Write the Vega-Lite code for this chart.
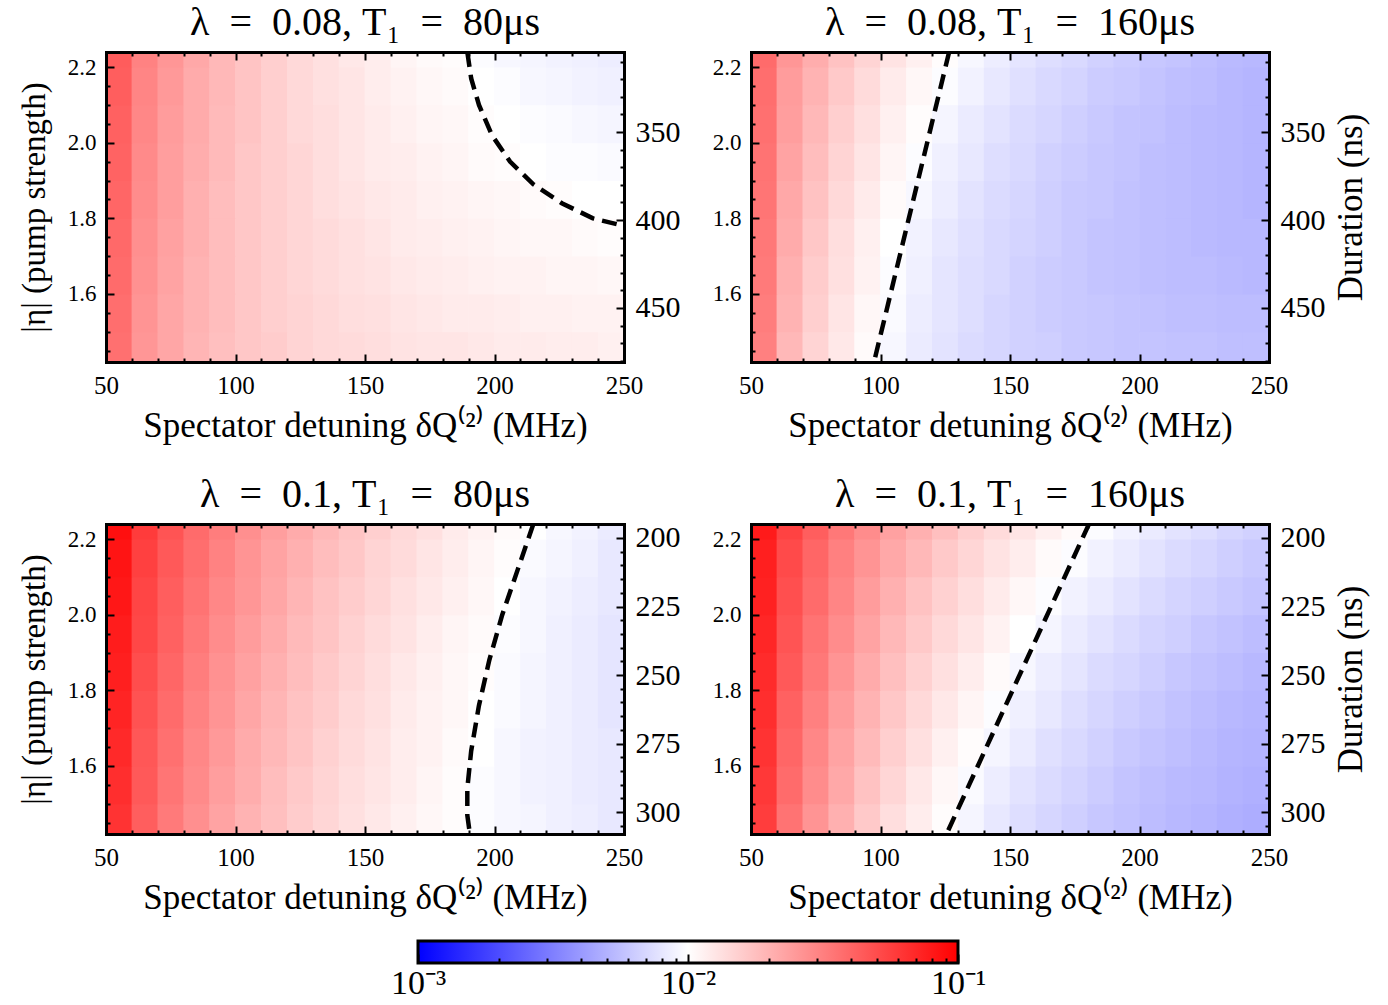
{
  "$schema": "https://vega.github.io/schema/vega-lite/v6.json",
  "padding": {"left": 18, "top": 3, "right": 5, "bottom": 0},
  "datasets": {
    "heat": [
      {"panel":"TL","det":55,"eta":1.45,"lg":-1.44},{"panel":"TL","det":65,"eta":1.45,"lg":-1.59},{"panel":"TL","det":75,"eta":1.45,"lg":-1.65},{"panel":"TL","det":85,"eta":1.45,"lg":-1.71},{"panel":"TL","det":95,"eta":1.45,"lg":-1.75},{"panel":"TL","det":105,"eta":1.45,"lg":-1.78},{"panel":"TL","det":115,"eta":1.45,"lg":-1.80},{"panel":"TL","det":125,"eta":1.45,"lg":-1.83},{"panel":"TL","det":135,"eta":1.45,"lg":-1.85},{"panel":"TL","det":145,"eta":1.45,"lg":-1.86},{"panel":"TL","det":155,"eta":1.45,"lg":-1.87},{"panel":"TL","det":165,"eta":1.45,"lg":-1.89},{"panel":"TL","det":175,"eta":1.45,"lg":-1.90},{"panel":"TL","det":185,"eta":1.45,"lg":-1.90},{"panel":"TL","det":195,"eta":1.45,"lg":-1.91},{"panel":"TL","det":205,"eta":1.45,"lg":-1.92},{"panel":"TL","det":215,"eta":1.45,"lg":-1.92},{"panel":"TL","det":225,"eta":1.45,"lg":-1.93},{"panel":"TL","det":235,"eta":1.45,"lg":-1.93},{"panel":"TL","det":245,"eta":1.45,"lg":-1.94},
      {"panel":"TL","det":55,"eta":1.55,"lg":-1.43},{"panel":"TL","det":65,"eta":1.55,"lg":-1.58},{"panel":"TL","det":75,"eta":1.55,"lg":-1.65},{"panel":"TL","det":85,"eta":1.55,"lg":-1.70},{"panel":"TL","det":95,"eta":1.55,"lg":-1.74},{"panel":"TL","det":105,"eta":1.55,"lg":-1.78},{"panel":"TL","det":115,"eta":1.55,"lg":-1.81},{"panel":"TL","det":125,"eta":1.55,"lg":-1.83},{"panel":"TL","det":135,"eta":1.55,"lg":-1.85},{"panel":"TL","det":145,"eta":1.55,"lg":-1.87},{"panel":"TL","det":155,"eta":1.55,"lg":-1.88},{"panel":"TL","det":165,"eta":1.55,"lg":-1.90},{"panel":"TL","det":175,"eta":1.55,"lg":-1.91},{"panel":"TL","det":185,"eta":1.55,"lg":-1.92},{"panel":"TL","det":195,"eta":1.55,"lg":-1.92},{"panel":"TL","det":205,"eta":1.55,"lg":-1.93},{"panel":"TL","det":215,"eta":1.55,"lg":-1.94},{"panel":"TL","det":225,"eta":1.55,"lg":-1.94},{"panel":"TL","det":235,"eta":1.55,"lg":-1.95},{"panel":"TL","det":245,"eta":1.55,"lg":-1.95},
      {"panel":"TL","det":55,"eta":1.65,"lg":-1.42},{"panel":"TL","det":65,"eta":1.65,"lg":-1.57},{"panel":"TL","det":75,"eta":1.65,"lg":-1.64},{"panel":"TL","det":85,"eta":1.65,"lg":-1.70},{"panel":"TL","det":95,"eta":1.65,"lg":-1.74},{"panel":"TL","det":105,"eta":1.65,"lg":-1.78},{"panel":"TL","det":115,"eta":1.65,"lg":-1.81},{"panel":"TL","det":125,"eta":1.65,"lg":-1.84},{"panel":"TL","det":135,"eta":1.65,"lg":-1.86},{"panel":"TL","det":145,"eta":1.65,"lg":-1.88},{"panel":"TL","det":155,"eta":1.65,"lg":-1.89},{"panel":"TL","det":165,"eta":1.65,"lg":-1.91},{"panel":"TL","det":175,"eta":1.65,"lg":-1.92},{"panel":"TL","det":185,"eta":1.65,"lg":-1.93},{"panel":"TL","det":195,"eta":1.65,"lg":-1.94},{"panel":"TL","det":205,"eta":1.65,"lg":-1.95},{"panel":"TL","det":215,"eta":1.65,"lg":-1.95},{"panel":"TL","det":225,"eta":1.65,"lg":-1.96},{"panel":"TL","det":235,"eta":1.65,"lg":-1.96},{"panel":"TL","det":245,"eta":1.65,"lg":-1.97},
      {"panel":"TL","det":55,"eta":1.75,"lg":-1.41},{"panel":"TL","det":65,"eta":1.75,"lg":-1.56},{"panel":"TL","det":75,"eta":1.75,"lg":-1.63},{"panel":"TL","det":85,"eta":1.75,"lg":-1.69},{"panel":"TL","det":95,"eta":1.75,"lg":-1.74},{"panel":"TL","det":105,"eta":1.75,"lg":-1.78},{"panel":"TL","det":115,"eta":1.75,"lg":-1.81},{"panel":"TL","det":125,"eta":1.75,"lg":-1.84},{"panel":"TL","det":135,"eta":1.75,"lg":-1.86},{"panel":"TL","det":145,"eta":1.75,"lg":-1.88},{"panel":"TL","det":155,"eta":1.75,"lg":-1.90},{"panel":"TL","det":165,"eta":1.75,"lg":-1.92},{"panel":"TL","det":175,"eta":1.75,"lg":-1.93},{"panel":"TL","det":185,"eta":1.75,"lg":-1.94},{"panel":"TL","det":195,"eta":1.75,"lg":-1.95},{"panel":"TL","det":205,"eta":1.75,"lg":-1.96},{"panel":"TL","det":215,"eta":1.75,"lg":-1.97},{"panel":"TL","det":225,"eta":1.75,"lg":-1.97},{"panel":"TL","det":235,"eta":1.75,"lg":-1.98},{"panel":"TL","det":245,"eta":1.75,"lg":-1.99},
      {"panel":"TL","det":55,"eta":1.85,"lg":-1.40},{"panel":"TL","det":65,"eta":1.85,"lg":-1.55},{"panel":"TL","det":75,"eta":1.85,"lg":-1.62},{"panel":"TL","det":85,"eta":1.85,"lg":-1.69},{"panel":"TL","det":95,"eta":1.85,"lg":-1.74},{"panel":"TL","det":105,"eta":1.85,"lg":-1.78},{"panel":"TL","det":115,"eta":1.85,"lg":-1.81},{"panel":"TL","det":125,"eta":1.85,"lg":-1.84},{"panel":"TL","det":135,"eta":1.85,"lg":-1.87},{"panel":"TL","det":145,"eta":1.85,"lg":-1.89},{"panel":"TL","det":155,"eta":1.85,"lg":-1.91},{"panel":"TL","det":165,"eta":1.85,"lg":-1.92},{"panel":"TL","det":175,"eta":1.85,"lg":-1.94},{"panel":"TL","det":185,"eta":1.85,"lg":-1.95},{"panel":"TL","det":195,"eta":1.85,"lg":-1.96},{"panel":"TL","det":205,"eta":1.85,"lg":-1.97},{"panel":"TL","det":215,"eta":1.85,"lg":-1.98},{"panel":"TL","det":225,"eta":1.85,"lg":-1.99},{"panel":"TL","det":235,"eta":1.85,"lg":-2.00},{"panel":"TL","det":245,"eta":1.85,"lg":-2.00},
      {"panel":"TL","det":55,"eta":1.95,"lg":-1.39},{"panel":"TL","det":65,"eta":1.95,"lg":-1.54},{"panel":"TL","det":75,"eta":1.95,"lg":-1.62},{"panel":"TL","det":85,"eta":1.95,"lg":-1.68},{"panel":"TL","det":95,"eta":1.95,"lg":-1.73},{"panel":"TL","det":105,"eta":1.95,"lg":-1.78},{"panel":"TL","det":115,"eta":1.95,"lg":-1.81},{"panel":"TL","det":125,"eta":1.95,"lg":-1.84},{"panel":"TL","det":135,"eta":1.95,"lg":-1.87},{"panel":"TL","det":145,"eta":1.95,"lg":-1.90},{"panel":"TL","det":155,"eta":1.95,"lg":-1.92},{"panel":"TL","det":165,"eta":1.95,"lg":-1.93},{"panel":"TL","det":175,"eta":1.95,"lg":-1.95},{"panel":"TL","det":185,"eta":1.95,"lg":-1.96},{"panel":"TL","det":195,"eta":1.95,"lg":-1.98},{"panel":"TL","det":205,"eta":1.95,"lg":-1.99},{"panel":"TL","det":215,"eta":1.95,"lg":-2.00},{"panel":"TL","det":225,"eta":1.95,"lg":-2.01},{"panel":"TL","det":235,"eta":1.95,"lg":-2.01},{"panel":"TL","det":245,"eta":1.95,"lg":-2.02},
      {"panel":"TL","det":55,"eta":2.05,"lg":-1.38},{"panel":"TL","det":65,"eta":2.05,"lg":-1.53},{"panel":"TL","det":75,"eta":2.05,"lg":-1.61},{"panel":"TL","det":85,"eta":2.05,"lg":-1.67},{"panel":"TL","det":95,"eta":2.05,"lg":-1.73},{"panel":"TL","det":105,"eta":2.05,"lg":-1.77},{"panel":"TL","det":115,"eta":2.05,"lg":-1.81},{"panel":"TL","det":125,"eta":2.05,"lg":-1.85},{"panel":"TL","det":135,"eta":2.05,"lg":-1.87},{"panel":"TL","det":145,"eta":2.05,"lg":-1.90},{"panel":"TL","det":155,"eta":2.05,"lg":-1.92},{"panel":"TL","det":165,"eta":2.05,"lg":-1.94},{"panel":"TL","det":175,"eta":2.05,"lg":-1.96},{"panel":"TL","det":185,"eta":2.05,"lg":-1.97},{"panel":"TL","det":195,"eta":2.05,"lg":-1.99},{"panel":"TL","det":205,"eta":2.05,"lg":-2.00},{"panel":"TL","det":215,"eta":2.05,"lg":-2.01},{"panel":"TL","det":225,"eta":2.05,"lg":-2.02},{"panel":"TL","det":235,"eta":2.05,"lg":-2.03},{"panel":"TL","det":245,"eta":2.05,"lg":-2.04},
      {"panel":"TL","det":55,"eta":2.15,"lg":-1.37},{"panel":"TL","det":65,"eta":2.15,"lg":-1.52},{"panel":"TL","det":75,"eta":2.15,"lg":-1.60},{"panel":"TL","det":85,"eta":2.15,"lg":-1.67},{"panel":"TL","det":95,"eta":2.15,"lg":-1.72},{"panel":"TL","det":105,"eta":2.15,"lg":-1.77},{"panel":"TL","det":115,"eta":2.15,"lg":-1.81},{"panel":"TL","det":125,"eta":2.15,"lg":-1.85},{"panel":"TL","det":135,"eta":2.15,"lg":-1.88},{"panel":"TL","det":145,"eta":2.15,"lg":-1.90},{"panel":"TL","det":155,"eta":2.15,"lg":-1.93},{"panel":"TL","det":165,"eta":2.15,"lg":-1.95},{"panel":"TL","det":175,"eta":2.15,"lg":-1.97},{"panel":"TL","det":185,"eta":2.15,"lg":-1.98},{"panel":"TL","det":195,"eta":2.15,"lg":-2.00},{"panel":"TL","det":205,"eta":2.15,"lg":-2.01},{"panel":"TL","det":215,"eta":2.15,"lg":-2.03},{"panel":"TL","det":225,"eta":2.15,"lg":-2.04},{"panel":"TL","det":235,"eta":2.15,"lg":-2.05},{"panel":"TL","det":245,"eta":2.15,"lg":-2.06},
      {"panel":"TL","det":55,"eta":2.25,"lg":-1.36},{"panel":"TL","det":65,"eta":2.25,"lg":-1.51},{"panel":"TL","det":75,"eta":2.25,"lg":-1.59},{"panel":"TL","det":85,"eta":2.25,"lg":-1.66},{"panel":"TL","det":95,"eta":2.25,"lg":-1.72},{"panel":"TL","det":105,"eta":2.25,"lg":-1.77},{"panel":"TL","det":115,"eta":2.25,"lg":-1.81},{"panel":"TL","det":125,"eta":2.25,"lg":-1.85},{"panel":"TL","det":135,"eta":2.25,"lg":-1.88},{"panel":"TL","det":145,"eta":2.25,"lg":-1.91},{"panel":"TL","det":155,"eta":2.25,"lg":-1.93},{"panel":"TL","det":165,"eta":2.25,"lg":-1.96},{"panel":"TL","det":175,"eta":2.25,"lg":-1.98},{"panel":"TL","det":185,"eta":2.25,"lg":-1.99},{"panel":"TL","det":195,"eta":2.25,"lg":-2.01},{"panel":"TL","det":205,"eta":2.25,"lg":-2.03},{"panel":"TL","det":215,"eta":2.25,"lg":-2.04},{"panel":"TL","det":225,"eta":2.25,"lg":-2.05},{"panel":"TL","det":235,"eta":2.25,"lg":-2.06},{"panel":"TL","det":245,"eta":2.25,"lg":-2.07},

      {"panel":"TR","det":55,"eta":1.45,"lg":-1.50},{"panel":"TR","det":65,"eta":1.45,"lg":-1.72},{"panel":"TR","det":75,"eta":1.45,"lg":-1.83},{"panel":"TR","det":85,"eta":1.45,"lg":-1.91},{"panel":"TR","det":95,"eta":1.45,"lg":-1.98},{"panel":"TR","det":105,"eta":1.45,"lg":-2.03},{"panel":"TR","det":115,"eta":1.45,"lg":-2.08},{"panel":"TR","det":125,"eta":1.45,"lg":-2.11},{"panel":"TR","det":135,"eta":1.45,"lg":-2.14},{"panel":"TR","det":145,"eta":1.45,"lg":-2.16},{"panel":"TR","det":155,"eta":1.45,"lg":-2.18},{"panel":"TR","det":165,"eta":1.45,"lg":-2.19},{"panel":"TR","det":175,"eta":1.45,"lg":-2.21},{"panel":"TR","det":185,"eta":1.45,"lg":-2.22},{"panel":"TR","det":195,"eta":1.45,"lg":-2.23},{"panel":"TR","det":205,"eta":1.45,"lg":-2.23},{"panel":"TR","det":215,"eta":1.45,"lg":-2.24},{"panel":"TR","det":225,"eta":1.45,"lg":-2.24},{"panel":"TR","det":235,"eta":1.45,"lg":-2.25},{"panel":"TR","det":245,"eta":1.45,"lg":-2.25},
      {"panel":"TR","det":55,"eta":1.55,"lg":-1.49},{"panel":"TR","det":65,"eta":1.55,"lg":-1.70},{"panel":"TR","det":75,"eta":1.55,"lg":-1.81},{"panel":"TR","det":85,"eta":1.55,"lg":-1.90},{"panel":"TR","det":95,"eta":1.55,"lg":-1.97},{"panel":"TR","det":105,"eta":1.55,"lg":-2.02},{"panel":"TR","det":115,"eta":1.55,"lg":-2.07},{"panel":"TR","det":125,"eta":1.55,"lg":-2.10},{"panel":"TR","det":135,"eta":1.55,"lg":-2.13},{"panel":"TR","det":145,"eta":1.55,"lg":-2.16},{"panel":"TR","det":155,"eta":1.55,"lg":-2.18},{"panel":"TR","det":165,"eta":1.55,"lg":-2.20},{"panel":"TR","det":175,"eta":1.55,"lg":-2.21},{"panel":"TR","det":185,"eta":1.55,"lg":-2.22},{"panel":"TR","det":195,"eta":1.55,"lg":-2.23},{"panel":"TR","det":205,"eta":1.55,"lg":-2.24},{"panel":"TR","det":215,"eta":1.55,"lg":-2.25},{"panel":"TR","det":225,"eta":1.55,"lg":-2.25},{"panel":"TR","det":235,"eta":1.55,"lg":-2.26},{"panel":"TR","det":245,"eta":1.55,"lg":-2.26},
      {"panel":"TR","det":55,"eta":1.65,"lg":-1.48},{"panel":"TR","det":65,"eta":1.65,"lg":-1.69},{"panel":"TR","det":75,"eta":1.65,"lg":-1.80},{"panel":"TR","det":85,"eta":1.65,"lg":-1.88},{"panel":"TR","det":95,"eta":1.65,"lg":-1.95},{"panel":"TR","det":105,"eta":1.65,"lg":-2.01},{"panel":"TR","det":115,"eta":1.65,"lg":-2.06},{"panel":"TR","det":125,"eta":1.65,"lg":-2.10},{"panel":"TR","det":135,"eta":1.65,"lg":-2.13},{"panel":"TR","det":145,"eta":1.65,"lg":-2.15},{"panel":"TR","det":155,"eta":1.65,"lg":-2.18},{"panel":"TR","det":165,"eta":1.65,"lg":-2.20},{"panel":"TR","det":175,"eta":1.65,"lg":-2.21},{"panel":"TR","det":185,"eta":1.65,"lg":-2.23},{"panel":"TR","det":195,"eta":1.65,"lg":-2.24},{"panel":"TR","det":205,"eta":1.65,"lg":-2.25},{"panel":"TR","det":215,"eta":1.65,"lg":-2.26},{"panel":"TR","det":225,"eta":1.65,"lg":-2.26},{"panel":"TR","det":235,"eta":1.65,"lg":-2.27},{"panel":"TR","det":245,"eta":1.65,"lg":-2.28},
      {"panel":"TR","det":55,"eta":1.75,"lg":-1.47},{"panel":"TR","det":65,"eta":1.75,"lg":-1.67},{"panel":"TR","det":75,"eta":1.75,"lg":-1.78},{"panel":"TR","det":85,"eta":1.75,"lg":-1.87},{"panel":"TR","det":95,"eta":1.75,"lg":-1.94},{"panel":"TR","det":105,"eta":1.75,"lg":-2.00},{"panel":"TR","det":115,"eta":1.75,"lg":-2.05},{"panel":"TR","det":125,"eta":1.75,"lg":-2.09},{"panel":"TR","det":135,"eta":1.75,"lg":-2.12},{"panel":"TR","det":145,"eta":1.75,"lg":-2.15},{"panel":"TR","det":155,"eta":1.75,"lg":-2.17},{"panel":"TR","det":165,"eta":1.75,"lg":-2.19},{"panel":"TR","det":175,"eta":1.75,"lg":-2.21},{"panel":"TR","det":185,"eta":1.75,"lg":-2.23},{"panel":"TR","det":195,"eta":1.75,"lg":-2.24},{"panel":"TR","det":205,"eta":1.75,"lg":-2.25},{"panel":"TR","det":215,"eta":1.75,"lg":-2.26},{"panel":"TR","det":225,"eta":1.75,"lg":-2.27},{"panel":"TR","det":235,"eta":1.75,"lg":-2.28},{"panel":"TR","det":245,"eta":1.75,"lg":-2.28},
      {"panel":"TR","det":55,"eta":1.85,"lg":-1.46},{"panel":"TR","det":65,"eta":1.85,"lg":-1.66},{"panel":"TR","det":75,"eta":1.85,"lg":-1.76},{"panel":"TR","det":85,"eta":1.85,"lg":-1.85},{"panel":"TR","det":95,"eta":1.85,"lg":-1.92},{"panel":"TR","det":105,"eta":1.85,"lg":-1.98},{"panel":"TR","det":115,"eta":1.85,"lg":-2.03},{"panel":"TR","det":125,"eta":1.85,"lg":-2.07},{"panel":"TR","det":135,"eta":1.85,"lg":-2.11},{"panel":"TR","det":145,"eta":1.85,"lg":-2.14},{"panel":"TR","det":155,"eta":1.85,"lg":-2.16},{"panel":"TR","det":165,"eta":1.85,"lg":-2.19},{"panel":"TR","det":175,"eta":1.85,"lg":-2.21},{"panel":"TR","det":185,"eta":1.85,"lg":-2.22},{"panel":"TR","det":195,"eta":1.85,"lg":-2.24},{"panel":"TR","det":205,"eta":1.85,"lg":-2.25},{"panel":"TR","det":215,"eta":1.85,"lg":-2.26},{"panel":"TR","det":225,"eta":1.85,"lg":-2.27},{"panel":"TR","det":235,"eta":1.85,"lg":-2.28},{"panel":"TR","det":245,"eta":1.85,"lg":-2.29},
      {"panel":"TR","det":55,"eta":1.95,"lg":-1.45},{"panel":"TR","det":65,"eta":1.95,"lg":-1.64},{"panel":"TR","det":75,"eta":1.95,"lg":-1.74},{"panel":"TR","det":85,"eta":1.95,"lg":-1.83},{"panel":"TR","det":95,"eta":1.95,"lg":-1.90},{"panel":"TR","det":105,"eta":1.95,"lg":-1.96},{"panel":"TR","det":115,"eta":1.95,"lg":-2.01},{"panel":"TR","det":125,"eta":1.95,"lg":-2.06},{"panel":"TR","det":135,"eta":1.95,"lg":-2.09},{"panel":"TR","det":145,"eta":1.95,"lg":-2.13},{"panel":"TR","det":155,"eta":1.95,"lg":-2.15},{"panel":"TR","det":165,"eta":1.95,"lg":-2.18},{"panel":"TR","det":175,"eta":1.95,"lg":-2.20},{"panel":"TR","det":185,"eta":1.95,"lg":-2.22},{"panel":"TR","det":195,"eta":1.95,"lg":-2.23},{"panel":"TR","det":205,"eta":1.95,"lg":-2.25},{"panel":"TR","det":215,"eta":1.95,"lg":-2.26},{"panel":"TR","det":225,"eta":1.95,"lg":-2.27},{"panel":"TR","det":235,"eta":1.95,"lg":-2.28},{"panel":"TR","det":245,"eta":1.95,"lg":-2.29},
      {"panel":"TR","det":55,"eta":2.05,"lg":-1.44},{"panel":"TR","det":65,"eta":2.05,"lg":-1.62},{"panel":"TR","det":75,"eta":2.05,"lg":-1.72},{"panel":"TR","det":85,"eta":2.05,"lg":-1.81},{"panel":"TR","det":95,"eta":2.05,"lg":-1.88},{"panel":"TR","det":105,"eta":2.05,"lg":-1.94},{"panel":"TR","det":115,"eta":2.05,"lg":-1.99},{"panel":"TR","det":125,"eta":2.05,"lg":-2.04},{"panel":"TR","det":135,"eta":2.05,"lg":-2.08},{"panel":"TR","det":145,"eta":2.05,"lg":-2.11},{"panel":"TR","det":155,"eta":2.05,"lg":-2.14},{"panel":"TR","det":165,"eta":2.05,"lg":-2.16},{"panel":"TR","det":175,"eta":2.05,"lg":-2.19},{"panel":"TR","det":185,"eta":2.05,"lg":-2.21},{"panel":"TR","det":195,"eta":2.05,"lg":-2.23},{"panel":"TR","det":205,"eta":2.05,"lg":-2.24},{"panel":"TR","det":215,"eta":2.05,"lg":-2.26},{"panel":"TR","det":225,"eta":2.05,"lg":-2.27},{"panel":"TR","det":235,"eta":2.05,"lg":-2.28},{"panel":"TR","det":245,"eta":2.05,"lg":-2.29},
      {"panel":"TR","det":55,"eta":2.15,"lg":-1.43},{"panel":"TR","det":65,"eta":2.15,"lg":-1.61},{"panel":"TR","det":75,"eta":2.15,"lg":-1.70},{"panel":"TR","det":85,"eta":2.15,"lg":-1.79},{"panel":"TR","det":95,"eta":2.15,"lg":-1.86},{"panel":"TR","det":105,"eta":2.15,"lg":-1.92},{"panel":"TR","det":115,"eta":2.15,"lg":-1.97},{"panel":"TR","det":125,"eta":2.15,"lg":-2.01},{"panel":"TR","det":135,"eta":2.15,"lg":-2.05},{"panel":"TR","det":145,"eta":2.15,"lg":-2.09},{"panel":"TR","det":155,"eta":2.15,"lg":-2.12},{"panel":"TR","det":165,"eta":2.15,"lg":-2.15},{"panel":"TR","det":175,"eta":2.15,"lg":-2.17},{"panel":"TR","det":185,"eta":2.15,"lg":-2.20},{"panel":"TR","det":195,"eta":2.15,"lg":-2.21},{"panel":"TR","det":205,"eta":2.15,"lg":-2.23},{"panel":"TR","det":215,"eta":2.15,"lg":-2.25},{"panel":"TR","det":225,"eta":2.15,"lg":-2.26},{"panel":"TR","det":235,"eta":2.15,"lg":-2.28},{"panel":"TR","det":245,"eta":2.15,"lg":-2.29},
      {"panel":"TR","det":55,"eta":2.25,"lg":-1.42},{"panel":"TR","det":65,"eta":2.25,"lg":-1.59},{"panel":"TR","det":75,"eta":2.25,"lg":-1.68},{"panel":"TR","det":85,"eta":2.25,"lg":-1.76},{"panel":"TR","det":95,"eta":2.25,"lg":-1.83},{"panel":"TR","det":105,"eta":2.25,"lg":-1.89},{"panel":"TR","det":115,"eta":2.25,"lg":-1.94},{"panel":"TR","det":125,"eta":2.25,"lg":-1.99},{"panel":"TR","det":135,"eta":2.25,"lg":-2.03},{"panel":"TR","det":145,"eta":2.25,"lg":-2.07},{"panel":"TR","det":155,"eta":2.25,"lg":-2.10},{"panel":"TR","det":165,"eta":2.25,"lg":-2.13},{"panel":"TR","det":175,"eta":2.25,"lg":-2.15},{"panel":"TR","det":185,"eta":2.25,"lg":-2.18},{"panel":"TR","det":195,"eta":2.25,"lg":-2.20},{"panel":"TR","det":205,"eta":2.25,"lg":-2.22},{"panel":"TR","det":215,"eta":2.25,"lg":-2.23},{"panel":"TR","det":225,"eta":2.25,"lg":-2.25},{"panel":"TR","det":235,"eta":2.25,"lg":-2.27},{"panel":"TR","det":245,"eta":2.25,"lg":-2.28},

      {"panel":"BL","det":55,"eta":1.45,"lg":-1.20},{"panel":"BL","det":65,"eta":1.45,"lg":-1.37},{"panel":"BL","det":75,"eta":1.45,"lg":-1.48},{"panel":"BL","det":85,"eta":1.45,"lg":-1.56},{"panel":"BL","det":95,"eta":1.45,"lg":-1.64},{"panel":"BL","det":105,"eta":1.45,"lg":-1.70},{"panel":"BL","det":115,"eta":1.45,"lg":-1.75},{"panel":"BL","det":125,"eta":1.45,"lg":-1.80},{"panel":"BL","det":135,"eta":1.45,"lg":-1.84},{"panel":"BL","det":145,"eta":1.45,"lg":-1.88},{"panel":"BL","det":155,"eta":1.45,"lg":-1.91},{"panel":"BL","det":165,"eta":1.45,"lg":-1.94},{"panel":"BL","det":175,"eta":1.45,"lg":-1.97},{"panel":"BL","det":185,"eta":1.45,"lg":-1.99},{"panel":"BL","det":195,"eta":1.45,"lg":-2.01},{"panel":"BL","det":205,"eta":1.45,"lg":-2.03},{"panel":"BL","det":215,"eta":1.45,"lg":-2.04},{"panel":"BL","det":225,"eta":1.45,"lg":-2.06},{"panel":"BL","det":235,"eta":1.45,"lg":-2.07},{"panel":"BL","det":245,"eta":1.45,"lg":-2.09},
      {"panel":"BL","det":55,"eta":1.55,"lg":-1.18},{"panel":"BL","det":65,"eta":1.55,"lg":-1.35},{"panel":"BL","det":75,"eta":1.55,"lg":-1.46},{"panel":"BL","det":85,"eta":1.55,"lg":-1.54},{"panel":"BL","det":95,"eta":1.55,"lg":-1.62},{"panel":"BL","det":105,"eta":1.55,"lg":-1.68},{"panel":"BL","det":115,"eta":1.55,"lg":-1.74},{"panel":"BL","det":125,"eta":1.55,"lg":-1.79},{"panel":"BL","det":135,"eta":1.55,"lg":-1.83},{"panel":"BL","det":145,"eta":1.55,"lg":-1.87},{"panel":"BL","det":155,"eta":1.55,"lg":-1.90},{"panel":"BL","det":165,"eta":1.55,"lg":-1.93},{"panel":"BL","det":175,"eta":1.55,"lg":-1.96},{"panel":"BL","det":185,"eta":1.55,"lg":-1.99},{"panel":"BL","det":195,"eta":1.55,"lg":-2.01},{"panel":"BL","det":205,"eta":1.55,"lg":-2.03},{"panel":"BL","det":215,"eta":1.55,"lg":-2.05},{"panel":"BL","det":225,"eta":1.55,"lg":-2.06},{"panel":"BL","det":235,"eta":1.55,"lg":-2.08},{"panel":"BL","det":245,"eta":1.55,"lg":-2.09},
      {"panel":"BL","det":55,"eta":1.65,"lg":-1.16},{"panel":"BL","det":65,"eta":1.65,"lg":-1.34},{"panel":"BL","det":75,"eta":1.65,"lg":-1.44},{"panel":"BL","det":85,"eta":1.65,"lg":-1.53},{"panel":"BL","det":95,"eta":1.65,"lg":-1.60},{"panel":"BL","det":105,"eta":1.65,"lg":-1.67},{"panel":"BL","det":115,"eta":1.65,"lg":-1.72},{"panel":"BL","det":125,"eta":1.65,"lg":-1.77},{"panel":"BL","det":135,"eta":1.65,"lg":-1.82},{"panel":"BL","det":145,"eta":1.65,"lg":-1.86},{"panel":"BL","det":155,"eta":1.65,"lg":-1.89},{"panel":"BL","det":165,"eta":1.65,"lg":-1.93},{"panel":"BL","det":175,"eta":1.65,"lg":-1.95},{"panel":"BL","det":185,"eta":1.65,"lg":-1.98},{"panel":"BL","det":195,"eta":1.65,"lg":-2.00},{"panel":"BL","det":205,"eta":1.65,"lg":-2.03},{"panel":"BL","det":215,"eta":1.65,"lg":-2.05},{"panel":"BL","det":225,"eta":1.65,"lg":-2.06},{"panel":"BL","det":235,"eta":1.65,"lg":-2.08},{"panel":"BL","det":245,"eta":1.65,"lg":-2.09},
      {"panel":"BL","det":55,"eta":1.75,"lg":-1.14},{"panel":"BL","det":65,"eta":1.75,"lg":-1.32},{"panel":"BL","det":75,"eta":1.75,"lg":-1.42},{"panel":"BL","det":85,"eta":1.75,"lg":-1.51},{"panel":"BL","det":95,"eta":1.75,"lg":-1.58},{"panel":"BL","det":105,"eta":1.75,"lg":-1.65},{"panel":"BL","det":115,"eta":1.75,"lg":-1.71},{"panel":"BL","det":125,"eta":1.75,"lg":-1.76},{"panel":"BL","det":135,"eta":1.75,"lg":-1.80},{"panel":"BL","det":145,"eta":1.75,"lg":-1.85},{"panel":"BL","det":155,"eta":1.75,"lg":-1.88},{"panel":"BL","det":165,"eta":1.75,"lg":-1.92},{"panel":"BL","det":175,"eta":1.75,"lg":-1.95},{"panel":"BL","det":185,"eta":1.75,"lg":-1.97},{"panel":"BL","det":195,"eta":1.75,"lg":-2.00},{"panel":"BL","det":205,"eta":1.75,"lg":-2.02},{"panel":"BL","det":215,"eta":1.75,"lg":-2.04},{"panel":"BL","det":225,"eta":1.75,"lg":-2.06},{"panel":"BL","det":235,"eta":1.75,"lg":-2.08},{"panel":"BL","det":245,"eta":1.75,"lg":-2.10},
      {"panel":"BL","det":55,"eta":1.85,"lg":-1.12},{"panel":"BL","det":65,"eta":1.85,"lg":-1.30},{"panel":"BL","det":75,"eta":1.85,"lg":-1.40},{"panel":"BL","det":85,"eta":1.85,"lg":-1.49},{"panel":"BL","det":95,"eta":1.85,"lg":-1.57},{"panel":"BL","det":105,"eta":1.85,"lg":-1.63},{"panel":"BL","det":115,"eta":1.85,"lg":-1.69},{"panel":"BL","det":125,"eta":1.85,"lg":-1.74},{"panel":"BL","det":135,"eta":1.85,"lg":-1.79},{"panel":"BL","det":145,"eta":1.85,"lg":-1.83},{"panel":"BL","det":155,"eta":1.85,"lg":-1.87},{"panel":"BL","det":165,"eta":1.85,"lg":-1.91},{"panel":"BL","det":175,"eta":1.85,"lg":-1.94},{"panel":"BL","det":185,"eta":1.85,"lg":-1.97},{"panel":"BL","det":195,"eta":1.85,"lg":-1.99},{"panel":"BL","det":205,"eta":1.85,"lg":-2.02},{"panel":"BL","det":215,"eta":1.85,"lg":-2.04},{"panel":"BL","det":225,"eta":1.85,"lg":-2.06},{"panel":"BL","det":235,"eta":1.85,"lg":-2.08},{"panel":"BL","det":245,"eta":1.85,"lg":-2.10},
      {"panel":"BL","det":55,"eta":1.95,"lg":-1.11},{"panel":"BL","det":65,"eta":1.95,"lg":-1.28},{"panel":"BL","det":75,"eta":1.95,"lg":-1.38},{"panel":"BL","det":85,"eta":1.95,"lg":-1.47},{"panel":"BL","det":95,"eta":1.95,"lg":-1.55},{"panel":"BL","det":105,"eta":1.95,"lg":-1.61},{"panel":"BL","det":115,"eta":1.95,"lg":-1.67},{"panel":"BL","det":125,"eta":1.95,"lg":-1.73},{"panel":"BL","det":135,"eta":1.95,"lg":-1.77},{"panel":"BL","det":145,"eta":1.95,"lg":-1.82},{"panel":"BL","det":155,"eta":1.95,"lg":-1.86},{"panel":"BL","det":165,"eta":1.95,"lg":-1.89},{"panel":"BL","det":175,"eta":1.95,"lg":-1.93},{"panel":"BL","det":185,"eta":1.95,"lg":-1.96},{"panel":"BL","det":195,"eta":1.95,"lg":-1.98},{"panel":"BL","det":205,"eta":1.95,"lg":-2.01},{"panel":"BL","det":215,"eta":1.95,"lg":-2.03},{"panel":"BL","det":225,"eta":1.95,"lg":-2.06},{"panel":"BL","det":235,"eta":1.95,"lg":-2.08},{"panel":"BL","det":245,"eta":1.95,"lg":-2.10},
      {"panel":"BL","det":55,"eta":2.05,"lg":-1.09},{"panel":"BL","det":65,"eta":2.05,"lg":-1.27},{"panel":"BL","det":75,"eta":2.05,"lg":-1.37},{"panel":"BL","det":85,"eta":2.05,"lg":-1.45},{"panel":"BL","det":95,"eta":2.05,"lg":-1.53},{"panel":"BL","det":105,"eta":2.05,"lg":-1.59},{"panel":"BL","det":115,"eta":2.05,"lg":-1.65},{"panel":"BL","det":125,"eta":2.05,"lg":-1.71},{"panel":"BL","det":135,"eta":2.05,"lg":-1.76},{"panel":"BL","det":145,"eta":2.05,"lg":-1.80},{"panel":"BL","det":155,"eta":2.05,"lg":-1.84},{"panel":"BL","det":165,"eta":2.05,"lg":-1.88},{"panel":"BL","det":175,"eta":2.05,"lg":-1.91},{"panel":"BL","det":185,"eta":2.05,"lg":-1.94},{"panel":"BL","det":195,"eta":2.05,"lg":-1.97},{"panel":"BL","det":205,"eta":2.05,"lg":-2.00},{"panel":"BL","det":215,"eta":2.05,"lg":-2.03},{"panel":"BL","det":225,"eta":2.05,"lg":-2.05},{"panel":"BL","det":235,"eta":2.05,"lg":-2.07},{"panel":"BL","det":245,"eta":2.05,"lg":-2.09},
      {"panel":"BL","det":55,"eta":2.15,"lg":-1.08},{"panel":"BL","det":65,"eta":2.15,"lg":-1.25},{"panel":"BL","det":75,"eta":2.15,"lg":-1.35},{"panel":"BL","det":85,"eta":2.15,"lg":-1.43},{"panel":"BL","det":95,"eta":2.15,"lg":-1.51},{"panel":"BL","det":105,"eta":2.15,"lg":-1.58},{"panel":"BL","det":115,"eta":2.15,"lg":-1.64},{"panel":"BL","det":125,"eta":2.15,"lg":-1.69},{"panel":"BL","det":135,"eta":2.15,"lg":-1.74},{"panel":"BL","det":145,"eta":2.15,"lg":-1.78},{"panel":"BL","det":155,"eta":2.15,"lg":-1.83},{"panel":"BL","det":165,"eta":2.15,"lg":-1.86},{"panel":"BL","det":175,"eta":2.15,"lg":-1.90},{"panel":"BL","det":185,"eta":2.15,"lg":-1.93},{"panel":"BL","det":195,"eta":2.15,"lg":-1.96},{"panel":"BL","det":205,"eta":2.15,"lg":-1.99},{"panel":"BL","det":215,"eta":2.15,"lg":-2.02},{"panel":"BL","det":225,"eta":2.15,"lg":-2.04},{"panel":"BL","det":235,"eta":2.15,"lg":-2.06},{"panel":"BL","det":245,"eta":2.15,"lg":-2.09},
      {"panel":"BL","det":55,"eta":2.25,"lg":-1.06},{"panel":"BL","det":65,"eta":2.25,"lg":-1.23},{"panel":"BL","det":75,"eta":2.25,"lg":-1.33},{"panel":"BL","det":85,"eta":2.25,"lg":-1.42},{"panel":"BL","det":95,"eta":2.25,"lg":-1.49},{"panel":"BL","det":105,"eta":2.25,"lg":-1.56},{"panel":"BL","det":115,"eta":2.25,"lg":-1.62},{"panel":"BL","det":125,"eta":2.25,"lg":-1.67},{"panel":"BL","det":135,"eta":2.25,"lg":-1.72},{"panel":"BL","det":145,"eta":2.25,"lg":-1.77},{"panel":"BL","det":155,"eta":2.25,"lg":-1.81},{"panel":"BL","det":165,"eta":2.25,"lg":-1.85},{"panel":"BL","det":175,"eta":2.25,"lg":-1.88},{"panel":"BL","det":185,"eta":2.25,"lg":-1.92},{"panel":"BL","det":195,"eta":2.25,"lg":-1.95},{"panel":"BL","det":205,"eta":2.25,"lg":-1.98},{"panel":"BL","det":215,"eta":2.25,"lg":-2.00},{"panel":"BL","det":225,"eta":2.25,"lg":-2.03},{"panel":"BL","det":235,"eta":2.25,"lg":-2.05},{"panel":"BL","det":245,"eta":2.25,"lg":-2.08},

      {"panel":"BR","det":55,"eta":1.45,"lg":-1.24},{"panel":"BR","det":65,"eta":1.45,"lg":-1.45},{"panel":"BR","det":75,"eta":1.45,"lg":-1.58},{"panel":"BR","det":85,"eta":1.45,"lg":-1.69},{"panel":"BR","det":95,"eta":1.45,"lg":-1.79},{"panel":"BR","det":105,"eta":1.45,"lg":-1.87},{"panel":"BR","det":115,"eta":1.45,"lg":-1.93},{"panel":"BR","det":125,"eta":1.45,"lg":-1.99},{"panel":"BR","det":135,"eta":1.45,"lg":-2.04},{"panel":"BR","det":145,"eta":1.45,"lg":-2.09},{"panel":"BR","det":155,"eta":1.45,"lg":-2.13},{"panel":"BR","det":165,"eta":1.45,"lg":-2.16},{"panel":"BR","det":175,"eta":1.45,"lg":-2.19},{"panel":"BR","det":185,"eta":1.45,"lg":-2.22},{"panel":"BR","det":195,"eta":1.45,"lg":-2.24},{"panel":"BR","det":205,"eta":1.45,"lg":-2.26},{"panel":"BR","det":215,"eta":1.45,"lg":-2.28},{"panel":"BR","det":225,"eta":1.45,"lg":-2.29},{"panel":"BR","det":235,"eta":1.45,"lg":-2.31},{"panel":"BR","det":245,"eta":1.45,"lg":-2.32},
      {"panel":"BR","det":55,"eta":1.55,"lg":-1.22},{"panel":"BR","det":65,"eta":1.55,"lg":-1.42},{"panel":"BR","det":75,"eta":1.55,"lg":-1.55},{"panel":"BR","det":85,"eta":1.55,"lg":-1.66},{"panel":"BR","det":95,"eta":1.55,"lg":-1.76},{"panel":"BR","det":105,"eta":1.55,"lg":-1.84},{"panel":"BR","det":115,"eta":1.55,"lg":-1.91},{"panel":"BR","det":125,"eta":1.55,"lg":-1.97},{"panel":"BR","det":135,"eta":1.55,"lg":-2.02},{"panel":"BR","det":145,"eta":1.55,"lg":-2.07},{"panel":"BR","det":155,"eta":1.55,"lg":-2.11},{"panel":"BR","det":165,"eta":1.55,"lg":-2.14},{"panel":"BR","det":175,"eta":1.55,"lg":-2.17},{"panel":"BR","det":185,"eta":1.55,"lg":-2.20},{"panel":"BR","det":195,"eta":1.55,"lg":-2.23},{"panel":"BR","det":205,"eta":1.55,"lg":-2.25},{"panel":"BR","det":215,"eta":1.55,"lg":-2.27},{"panel":"BR","det":225,"eta":1.55,"lg":-2.28},{"panel":"BR","det":235,"eta":1.55,"lg":-2.30},{"panel":"BR","det":245,"eta":1.55,"lg":-2.31},
      {"panel":"BR","det":55,"eta":1.65,"lg":-1.20},{"panel":"BR","det":65,"eta":1.65,"lg":-1.40},{"panel":"BR","det":75,"eta":1.65,"lg":-1.53},{"panel":"BR","det":85,"eta":1.65,"lg":-1.64},{"panel":"BR","det":95,"eta":1.65,"lg":-1.73},{"panel":"BR","det":105,"eta":1.65,"lg":-1.81},{"panel":"BR","det":115,"eta":1.65,"lg":-1.88},{"panel":"BR","det":125,"eta":1.65,"lg":-1.94},{"panel":"BR","det":135,"eta":1.65,"lg":-1.99},{"panel":"BR","det":145,"eta":1.65,"lg":-2.04},{"panel":"BR","det":155,"eta":1.65,"lg":-2.08},{"panel":"BR","det":165,"eta":1.65,"lg":-2.12},{"panel":"BR","det":175,"eta":1.65,"lg":-2.15},{"panel":"BR","det":185,"eta":1.65,"lg":-2.18},{"panel":"BR","det":195,"eta":1.65,"lg":-2.21},{"panel":"BR","det":205,"eta":1.65,"lg":-2.23},{"panel":"BR","det":215,"eta":1.65,"lg":-2.25},{"panel":"BR","det":225,"eta":1.65,"lg":-2.27},{"panel":"BR","det":235,"eta":1.65,"lg":-2.29},{"panel":"BR","det":245,"eta":1.65,"lg":-2.30},
      {"panel":"BR","det":55,"eta":1.75,"lg":-1.18},{"panel":"BR","det":65,"eta":1.75,"lg":-1.38},{"panel":"BR","det":75,"eta":1.75,"lg":-1.50},{"panel":"BR","det":85,"eta":1.75,"lg":-1.61},{"panel":"BR","det":95,"eta":1.75,"lg":-1.70},{"panel":"BR","det":105,"eta":1.75,"lg":-1.78},{"panel":"BR","det":115,"eta":1.75,"lg":-1.85},{"panel":"BR","det":125,"eta":1.75,"lg":-1.91},{"panel":"BR","det":135,"eta":1.75,"lg":-1.96},{"panel":"BR","det":145,"eta":1.75,"lg":-2.01},{"panel":"BR","det":155,"eta":1.75,"lg":-2.06},{"panel":"BR","det":165,"eta":1.75,"lg":-2.09},{"panel":"BR","det":175,"eta":1.75,"lg":-2.13},{"panel":"BR","det":185,"eta":1.75,"lg":-2.16},{"panel":"BR","det":195,"eta":1.75,"lg":-2.19},{"panel":"BR","det":205,"eta":1.75,"lg":-2.21},{"panel":"BR","det":215,"eta":1.75,"lg":-2.24},{"panel":"BR","det":225,"eta":1.75,"lg":-2.26},{"panel":"BR","det":235,"eta":1.75,"lg":-2.28},{"panel":"BR","det":245,"eta":1.75,"lg":-2.29},
      {"panel":"BR","det":55,"eta":1.85,"lg":-1.17},{"panel":"BR","det":65,"eta":1.85,"lg":-1.35},{"panel":"BR","det":75,"eta":1.85,"lg":-1.47},{"panel":"BR","det":85,"eta":1.85,"lg":-1.58},{"panel":"BR","det":95,"eta":1.85,"lg":-1.67},{"panel":"BR","det":105,"eta":1.85,"lg":-1.75},{"panel":"BR","det":115,"eta":1.85,"lg":-1.82},{"panel":"BR","det":125,"eta":1.85,"lg":-1.88},{"panel":"BR","det":135,"eta":1.85,"lg":-1.93},{"panel":"BR","det":145,"eta":1.85,"lg":-1.98},{"panel":"BR","det":155,"eta":1.85,"lg":-2.03},{"panel":"BR","det":165,"eta":1.85,"lg":-2.07},{"panel":"BR","det":175,"eta":1.85,"lg":-2.10},{"panel":"BR","det":185,"eta":1.85,"lg":-2.14},{"panel":"BR","det":195,"eta":1.85,"lg":-2.16},{"panel":"BR","det":205,"eta":1.85,"lg":-2.19},{"panel":"BR","det":215,"eta":1.85,"lg":-2.22},{"panel":"BR","det":225,"eta":1.85,"lg":-2.24},{"panel":"BR","det":235,"eta":1.85,"lg":-2.26},{"panel":"BR","det":245,"eta":1.85,"lg":-2.28},
      {"panel":"BR","det":55,"eta":1.95,"lg":-1.15},{"panel":"BR","det":65,"eta":1.95,"lg":-1.33},{"panel":"BR","det":75,"eta":1.95,"lg":-1.45},{"panel":"BR","det":85,"eta":1.95,"lg":-1.55},{"panel":"BR","det":95,"eta":1.95,"lg":-1.64},{"panel":"BR","det":105,"eta":1.95,"lg":-1.72},{"panel":"BR","det":115,"eta":1.95,"lg":-1.79},{"panel":"BR","det":125,"eta":1.95,"lg":-1.85},{"panel":"BR","det":135,"eta":1.95,"lg":-1.90},{"panel":"BR","det":145,"eta":1.95,"lg":-1.95},{"panel":"BR","det":155,"eta":1.95,"lg":-2.00},{"panel":"BR","det":165,"eta":1.95,"lg":-2.04},{"panel":"BR","det":175,"eta":1.95,"lg":-2.08},{"panel":"BR","det":185,"eta":1.95,"lg":-2.11},{"panel":"BR","det":195,"eta":1.95,"lg":-2.14},{"panel":"BR","det":205,"eta":1.95,"lg":-2.17},{"panel":"BR","det":215,"eta":1.95,"lg":-2.19},{"panel":"BR","det":225,"eta":1.95,"lg":-2.22},{"panel":"BR","det":235,"eta":1.95,"lg":-2.24},{"panel":"BR","det":245,"eta":1.95,"lg":-2.26},
      {"panel":"BR","det":55,"eta":2.05,"lg":-1.13},{"panel":"BR","det":65,"eta":2.05,"lg":-1.31},{"panel":"BR","det":75,"eta":2.05,"lg":-1.42},{"panel":"BR","det":85,"eta":2.05,"lg":-1.52},{"panel":"BR","det":95,"eta":2.05,"lg":-1.61},{"panel":"BR","det":105,"eta":2.05,"lg":-1.69},{"panel":"BR","det":115,"eta":2.05,"lg":-1.76},{"panel":"BR","det":125,"eta":2.05,"lg":-1.82},{"panel":"BR","det":135,"eta":2.05,"lg":-1.87},{"panel":"BR","det":145,"eta":2.05,"lg":-1.92},{"panel":"BR","det":155,"eta":2.05,"lg":-1.97},{"panel":"BR","det":165,"eta":2.05,"lg":-2.01},{"panel":"BR","det":175,"eta":2.05,"lg":-2.05},{"panel":"BR","det":185,"eta":2.05,"lg":-2.08},{"panel":"BR","det":195,"eta":2.05,"lg":-2.11},{"panel":"BR","det":205,"eta":2.05,"lg":-2.14},{"panel":"BR","det":215,"eta":2.05,"lg":-2.17},{"panel":"BR","det":225,"eta":2.05,"lg":-2.19},{"panel":"BR","det":235,"eta":2.05,"lg":-2.21},{"panel":"BR","det":245,"eta":2.05,"lg":-2.23},
      {"panel":"BR","det":55,"eta":2.15,"lg":-1.12},{"panel":"BR","det":65,"eta":2.15,"lg":-1.29},{"panel":"BR","det":75,"eta":2.15,"lg":-1.40},{"panel":"BR","det":85,"eta":2.15,"lg":-1.50},{"panel":"BR","det":95,"eta":2.15,"lg":-1.58},{"panel":"BR","det":105,"eta":2.15,"lg":-1.66},{"panel":"BR","det":115,"eta":2.15,"lg":-1.72},{"panel":"BR","det":125,"eta":2.15,"lg":-1.79},{"panel":"BR","det":135,"eta":2.15,"lg":-1.84},{"panel":"BR","det":145,"eta":2.15,"lg":-1.89},{"panel":"BR","det":155,"eta":2.15,"lg":-1.93},{"panel":"BR","det":165,"eta":2.15,"lg":-1.98},{"panel":"BR","det":175,"eta":2.15,"lg":-2.01},{"panel":"BR","det":185,"eta":2.15,"lg":-2.05},{"panel":"BR","det":195,"eta":2.15,"lg":-2.08},{"panel":"BR","det":205,"eta":2.15,"lg":-2.11},{"panel":"BR","det":215,"eta":2.15,"lg":-2.14},{"panel":"BR","det":225,"eta":2.15,"lg":-2.16},{"panel":"BR","det":235,"eta":2.15,"lg":-2.19},{"panel":"BR","det":245,"eta":2.15,"lg":-2.21},
      {"panel":"BR","det":55,"eta":2.25,"lg":-1.10},{"panel":"BR","det":65,"eta":2.25,"lg":-1.26},{"panel":"BR","det":75,"eta":2.25,"lg":-1.37},{"panel":"BR","det":85,"eta":2.25,"lg":-1.47},{"panel":"BR","det":95,"eta":2.25,"lg":-1.55},{"panel":"BR","det":105,"eta":2.25,"lg":-1.63},{"panel":"BR","det":115,"eta":2.25,"lg":-1.69},{"panel":"BR","det":125,"eta":2.25,"lg":-1.75},{"panel":"BR","det":135,"eta":2.25,"lg":-1.81},{"panel":"BR","det":145,"eta":2.25,"lg":-1.86},{"panel":"BR","det":155,"eta":2.25,"lg":-1.90},{"panel":"BR","det":165,"eta":2.25,"lg":-1.94},{"panel":"BR","det":175,"eta":2.25,"lg":-1.98},{"panel":"BR","det":185,"eta":2.25,"lg":-2.01},{"panel":"BR","det":195,"eta":2.25,"lg":-2.05},{"panel":"BR","det":205,"eta":2.25,"lg":-2.08},{"panel":"BR","det":215,"eta":2.25,"lg":-2.11},{"panel":"BR","det":225,"eta":2.25,"lg":-2.13},{"panel":"BR","det":235,"eta":2.25,"lg":-2.16},{"panel":"BR","det":245,"eta":2.25,"lg":-2.18}
    ],
    "contour": [
      {"panel":"TL","i":0,"det":189.5,"eta":2.24},{"panel":"TL","i":1,"det":191,"eta":2.17},{"panel":"TL","i":2,"det":194,"eta":2.10},{"panel":"TL","i":3,"det":199,"eta":2.02},{"panel":"TL","i":4,"det":206,"eta":1.95},{"panel":"TL","i":5,"det":215,"eta":1.89},{"panel":"TL","i":6,"det":226,"eta":1.84},{"panel":"TL","i":7,"det":238,"eta":1.80},{"panel":"TL","i":8,"det":250,"eta":1.78},
      {"panel":"TR","i":0,"det":126.5,"eta":2.24},{"panel":"TR","i":1,"det":112,"eta":1.83},{"panel":"TR","i":2,"det":97.5,"eta":1.42},
      {"panel":"BL","i":0,"det":215,"eta":2.24},{"panel":"BL","i":1,"det":209,"eta":2.12},{"panel":"BL","i":2,"det":203,"eta":2.00},{"panel":"BL","i":3,"det":198,"eta":1.88},{"panel":"BL","i":4,"det":194,"eta":1.76},{"panel":"BL","i":5,"det":191,"eta":1.64},{"panel":"BL","i":6,"det":189.5,"eta":1.54},{"panel":"BL","i":7,"det":189.5,"eta":1.47},{"panel":"BL","i":8,"det":190.5,"eta":1.42},
      {"panel":"BR","i":0,"det":180.5,"eta":2.24},{"panel":"BR","i":1,"det":125.5,"eta":1.42}
    ]
  },
  "vconcat": [
    {
      "vconcat": [
        {
          "hconcat": [
            {
              "width": 518, "height": 310,
              "title": "λ\u2002=\u20020.08, T₁\u2002=\u200280μs",
              "layer": [
                {
                  "data": {"name": "heat"},
                  "transform": [{"filter": "datum.panel === 'TL'"}],
                  "mark": {"type": "point", "shape": "M-1,-1.46H1V1.46H-1Z", "size": 702, "filled": true, "opacity": 1, "strokeWidth": 0, "clip": true},
                  "encoding": {
                    "x": {"field": "det", "type": "quantitative", "scale": {"domain": [50, 250], "nice": false, "zero": false},
                          "axis": {"orient": "bottom", "zindex": 2, "values": [50, 100, 150, 200, 250], "format": "d", "tickSize": -8, "labelPadding": 19, "labelFontSize": 25, "title": "Spectator detuning δQ⁽²⁾ (MHz)", "titleFontSize": 35, "titlePadding": 10}},
                    "y": {"field": "eta", "type": "quantitative", "scale": {"domain": [1.42, 2.24], "nice": false, "zero": false},
                          "axis": {"orient": "left", "zindex": 2, "values": [1.6, 1.8, 2.0, 2.2], "format": ".1f", "tickSize": -8, "labelPadding": 18, "labelFontSize": 23, "title": "|η| (pump strength)", "titleFontSize": 33, "titlePadding": 16}},
                    "color": {"field": "lg", "type": "quantitative", "scale": {"domain": [-3, -2, -1], "range": ["#0000ff", "#ffffff", "#ff0000"], "interpolate": "rgb", "clamp": true}, "legend": null}
                  }
                },
                {
                  "data": {"name": "contour"},
                  "transform": [{"filter": "datum.panel === 'TL'"}],
                  "mark": {"type": "line", "color": "black", "strokeWidth": 4.5, "strokeDash": [15, 8], "clip": true},
                  "encoding": {
                    "x": {"field": "det", "type": "quantitative",
                          "axis": {"orient": "bottom", "zindex": 2, "values": [60, 70, 80, 90, 110, 120, 130, 140, 160, 170, 180, 190, 210, 220, 230, 240], "tickSize": -4, "labels": false, "domain": false, "title": null}},
                    "y": {"field": "eta", "type": "quantitative",
                          "axis": {"orient": "left", "zindex": 2, "values": [1.45, 1.5, 1.55, 1.65, 1.7, 1.75, 1.85, 1.9, 1.95, 2.05, 2.1, 2.15], "tickSize": -4, "labels": false, "domain": false, "title": null}},
                    "order": {"field": "i", "type": "quantitative"}
                  }
                },
                {
                  "data": {"values": [{}]},
                  "mark": {"type": "point", "opacity": 0},
                  "encoding": {
                    "x": {"datum": 150, "type": "quantitative", "axis": {"orient": "top", "zindex": 2, "values": [50, 100, 150, 200, 250], "tickSize": -8, "labels": false, "title": null}},
                    "y": {"datum": 2.0, "type": "quantitative", "axis": {"orient": "right", "zindex": 2, "values": [2.02825, 1.79556, 1.56287], "labelExpr": "datum.value > 1.9 ? '350' : datum.value > 1.7 ? '400' : '450'", "tickSize": -8, "labelPadding": 19, "labelFontSize": 30, "title": null}}
                  }
                },
                {
                  "data": {"values": [{}]},
                  "mark": {"type": "point", "opacity": 0},
                  "encoding": {
                    "x": {"datum": 150, "type": "quantitative", "axis": {"orient": "top", "zindex": 2, "values": [60, 70, 80, 90, 110, 120, 130, 140, 160, 170, 180, 190, 210, 220, 230, 240], "tickSize": -4, "labels": false, "domain": false, "title": null}},
                    "y": {"datum": 2.0, "type": "quantitative", "axis": {"orient": "right", "zindex": 2, "values": [2.2144, 2.16786, 2.12133, 2.07479, 1.98171, 1.93518, 1.88864, 1.8421, 1.74902, 1.70249, 1.65595, 1.60941, 1.51633, 1.4698, 1.42326], "tickSize": -4, "labels": false, "domain": false, "title": null}}
                  }
                }
              ],
              "resolve": {"axis": {"x": "independent", "y": "independent"}}
            },
            {
              "width": 518, "height": 310,
              "title": "λ\u2002=\u20020.08, T₁\u2002=\u2002160μs",
              "layer": [
                {
                  "data": {"name": "heat"},
                  "transform": [{"filter": "datum.panel === 'TR'"}],
                  "mark": {"type": "point", "shape": "M-1,-1.46H1V1.46H-1Z", "size": 702, "filled": true, "opacity": 1, "strokeWidth": 0, "clip": true},
                  "encoding": {
                    "x": {"field": "det", "type": "quantitative", "scale": {"domain": [50, 250], "nice": false, "zero": false},
                          "axis": {"orient": "bottom", "zindex": 2, "values": [50, 100, 150, 200, 250], "format": "d", "tickSize": -8, "labelPadding": 19, "labelFontSize": 25, "title": "Spectator detuning δQ⁽²⁾ (MHz)", "titleFontSize": 35, "titlePadding": 10}},
                    "y": {"field": "eta", "type": "quantitative", "scale": {"domain": [1.42, 2.24], "nice": false, "zero": false},
                          "axis": {"orient": "left", "zindex": 2, "values": [1.6, 1.8, 2.0, 2.2], "format": ".1f", "tickSize": -8, "labelPadding": 18, "labelFontSize": 23, "title": null}},
                    "color": {"field": "lg", "type": "quantitative", "scale": {"domain": [-3, -2, -1], "range": ["#0000ff", "#ffffff", "#ff0000"], "interpolate": "rgb", "clamp": true}, "legend": null}
                  }
                },
                {
                  "data": {"name": "contour"},
                  "transform": [{"filter": "datum.panel === 'TR'"}],
                  "mark": {"type": "line", "color": "black", "strokeWidth": 4.5, "strokeDash": [15, 8], "clip": true},
                  "encoding": {
                    "x": {"field": "det", "type": "quantitative",
                          "axis": {"orient": "bottom", "zindex": 2, "values": [60, 70, 80, 90, 110, 120, 130, 140, 160, 170, 180, 190, 210, 220, 230, 240], "tickSize": -4, "labels": false, "domain": false, "title": null}},
                    "y": {"field": "eta", "type": "quantitative",
                          "axis": {"orient": "left", "zindex": 2, "values": [1.45, 1.5, 1.55, 1.65, 1.7, 1.75, 1.85, 1.9, 1.95, 2.05, 2.1, 2.15], "tickSize": -4, "labels": false, "domain": false, "title": null}},
                    "order": {"field": "i", "type": "quantitative"}
                  }
                },
                {
                  "data": {"values": [{}]},
                  "mark": {"type": "point", "opacity": 0},
                  "encoding": {
                    "x": {"datum": 150, "type": "quantitative", "axis": {"orient": "top", "zindex": 2, "values": [50, 100, 150, 200, 250], "tickSize": -8, "labels": false, "title": null}},
                    "y": {"datum": 2.0, "type": "quantitative", "axis": {"orient": "right", "zindex": 2, "values": [2.02825, 1.79556, 1.56287], "labelExpr": "datum.value > 1.9 ? '350' : datum.value > 1.7 ? '400' : '450'", "tickSize": -8, "labelPadding": 19, "labelFontSize": 30, "title": "Duration (ns)", "titleFontSize": 35, "titleAngle": 270, "titleBaseline": "top", "titlePadding": 8}}
                  }
                },
                {
                  "data": {"values": [{}]},
                  "mark": {"type": "point", "opacity": 0},
                  "encoding": {
                    "x": {"datum": 150, "type": "quantitative", "axis": {"orient": "top", "zindex": 2, "values": [60, 70, 80, 90, 110, 120, 130, 140, 160, 170, 180, 190, 210, 220, 230, 240], "tickSize": -4, "labels": false, "domain": false, "title": null}},
                    "y": {"datum": 2.0, "type": "quantitative", "axis": {"orient": "right", "zindex": 2, "values": [2.2144, 2.16786, 2.12133, 2.07479, 1.98171, 1.93518, 1.88864, 1.8421, 1.74902, 1.70249, 1.65595, 1.60941, 1.51633, 1.4698, 1.42326], "tickSize": -4, "labels": false, "domain": false, "title": null}}
                  }
                }
              ],
              "resolve": {"axis": {"x": "independent", "y": "independent"}}
            }
          ],
          "spacing": 32
        },
        {
          "hconcat": [
            {
              "width": 518, "height": 310,
              "title": "λ\u2002=\u20020.1, T₁\u2002=\u200280μs",
              "layer": [
                {
                  "data": {"name": "heat"},
                  "transform": [{"filter": "datum.panel === 'BL'"}],
                  "mark": {"type": "point", "shape": "M-1,-1.46H1V1.46H-1Z", "size": 702, "filled": true, "opacity": 1, "strokeWidth": 0, "clip": true},
                  "encoding": {
                    "x": {"field": "det", "type": "quantitative", "scale": {"domain": [50, 250], "nice": false, "zero": false},
                          "axis": {"orient": "bottom", "zindex": 2, "values": [50, 100, 150, 200, 250], "format": "d", "tickSize": -8, "labelPadding": 19, "labelFontSize": 25, "title": "Spectator detuning δQ⁽²⁾ (MHz)", "titleFontSize": 35, "titlePadding": 10}},
                    "y": {"field": "eta", "type": "quantitative", "scale": {"domain": [1.42, 2.24], "nice": false, "zero": false},
                          "axis": {"orient": "left", "zindex": 2, "values": [1.6, 1.8, 2.0, 2.2], "format": ".1f", "tickSize": -8, "labelPadding": 18, "labelFontSize": 23, "title": "|η| (pump strength)", "titleFontSize": 33, "titlePadding": 16}},
                    "color": {"field": "lg", "type": "quantitative", "scale": {"domain": [-3, -2, -1], "range": ["#0000ff", "#ffffff", "#ff0000"], "interpolate": "rgb", "clamp": true}, "legend": null}
                  }
                },
                {
                  "data": {"name": "contour"},
                  "transform": [{"filter": "datum.panel === 'BL'"}],
                  "mark": {"type": "line", "color": "black", "strokeWidth": 4.5, "strokeDash": [15, 8], "clip": true},
                  "encoding": {
                    "x": {"field": "det", "type": "quantitative",
                          "axis": {"orient": "bottom", "zindex": 2, "values": [60, 70, 80, 90, 110, 120, 130, 140, 160, 170, 180, 190, 210, 220, 230, 240], "tickSize": -4, "labels": false, "domain": false, "title": null}},
                    "y": {"field": "eta", "type": "quantitative",
                          "axis": {"orient": "left", "zindex": 2, "values": [1.45, 1.5, 1.55, 1.65, 1.7, 1.75, 1.85, 1.9, 1.95, 2.05, 2.1, 2.15], "tickSize": -4, "labels": false, "domain": false, "title": null}},
                    "order": {"field": "i", "type": "quantitative"}
                  }
                },
                {
                  "data": {"values": [{}]},
                  "mark": {"type": "point", "opacity": 0},
                  "encoding": {
                    "x": {"datum": 150, "type": "quantitative", "axis": {"orient": "top", "zindex": 2, "values": [50, 100, 150, 200, 250], "tickSize": -8, "labels": false, "title": null}},
                    "y": {"datum": 2.0, "type": "quantitative", "axis": {"orient": "right", "zindex": 2, "values": [2.20302, 2.02177, 1.84052, 1.65927, 1.47802], "labelExpr": "datum.value > 2.1 ? '200' : datum.value > 1.9 ? '225' : datum.value > 1.75 ? '250' : datum.value > 1.55 ? '275' : '300'", "tickSize": -8, "labelPadding": 19, "labelFontSize": 30, "title": null}}
                  }
                },
                {
                  "data": {"values": [{}]},
                  "mark": {"type": "point", "opacity": 0},
                  "encoding": {
                    "x": {"datum": 150, "type": "quantitative", "axis": {"orient": "top", "zindex": 2, "values": [60, 70, 80, 90, 110, 120, 130, 140, 160, 170, 180, 190, 210, 220, 230, 240], "tickSize": -4, "labels": false, "domain": false, "title": null}},
                    "y": {"datum": 2.0, "type": "quantitative", "axis": {"orient": "right", "zindex": 2, "values": [2.16677, 2.13052, 2.09427, 2.05802, 1.98552, 1.94927, 1.91302, 1.87677, 1.80427, 1.76802, 1.73177, 1.69552, 1.62302, 1.58677, 1.55052, 1.51427, 1.44177], "tickSize": -4, "labels": false, "domain": false, "title": null}}
                  }
                }
              ],
              "resolve": {"axis": {"x": "independent", "y": "independent"}}
            },
            {
              "width": 518, "height": 310,
              "title": "λ\u2002=\u20020.1, T₁\u2002=\u2002160μs",
              "layer": [
                {
                  "data": {"name": "heat"},
                  "transform": [{"filter": "datum.panel === 'BR'"}],
                  "mark": {"type": "point", "shape": "M-1,-1.46H1V1.46H-1Z", "size": 702, "filled": true, "opacity": 1, "strokeWidth": 0, "clip": true},
                  "encoding": {
                    "x": {"field": "det", "type": "quantitative", "scale": {"domain": [50, 250], "nice": false, "zero": false},
                          "axis": {"orient": "bottom", "zindex": 2, "values": [50, 100, 150, 200, 250], "format": "d", "tickSize": -8, "labelPadding": 19, "labelFontSize": 25, "title": "Spectator detuning δQ⁽²⁾ (MHz)", "titleFontSize": 35, "titlePadding": 10}},
                    "y": {"field": "eta", "type": "quantitative", "scale": {"domain": [1.42, 2.24], "nice": false, "zero": false},
                          "axis": {"orient": "left", "zindex": 2, "values": [1.6, 1.8, 2.0, 2.2], "format": ".1f", "tickSize": -8, "labelPadding": 18, "labelFontSize": 23, "title": null}},
                    "color": {"field": "lg", "type": "quantitative", "scale": {"domain": [-3, -2, -1], "range": ["#0000ff", "#ffffff", "#ff0000"], "interpolate": "rgb", "clamp": true}, "legend": null}
                  }
                },
                {
                  "data": {"name": "contour"},
                  "transform": [{"filter": "datum.panel === 'BR'"}],
                  "mark": {"type": "line", "color": "black", "strokeWidth": 4.5, "strokeDash": [15, 8], "clip": true},
                  "encoding": {
                    "x": {"field": "det", "type": "quantitative",
                          "axis": {"orient": "bottom", "zindex": 2, "values": [60, 70, 80, 90, 110, 120, 130, 140, 160, 170, 180, 190, 210, 220, 230, 240], "tickSize": -4, "labels": false, "domain": false, "title": null}},
                    "y": {"field": "eta", "type": "quantitative",
                          "axis": {"orient": "left", "zindex": 2, "values": [1.45, 1.5, 1.55, 1.65, 1.7, 1.75, 1.85, 1.9, 1.95, 2.05, 2.1, 2.15], "tickSize": -4, "labels": false, "domain": false, "title": null}},
                    "order": {"field": "i", "type": "quantitative"}
                  }
                },
                {
                  "data": {"values": [{}]},
                  "mark": {"type": "point", "opacity": 0},
                  "encoding": {
                    "x": {"datum": 150, "type": "quantitative", "axis": {"orient": "top", "zindex": 2, "values": [50, 100, 150, 200, 250], "tickSize": -8, "labels": false, "title": null}},
                    "y": {"datum": 2.0, "type": "quantitative", "axis": {"orient": "right", "zindex": 2, "values": [2.20302, 2.02177, 1.84052, 1.65927, 1.47802], "labelExpr": "datum.value > 2.1 ? '200' : datum.value > 1.9 ? '225' : datum.value > 1.75 ? '250' : datum.value > 1.55 ? '275' : '300'", "tickSize": -8, "labelPadding": 19, "labelFontSize": 30, "title": "Duration (ns)", "titleFontSize": 35, "titleAngle": 270, "titleBaseline": "top", "titlePadding": 8}}
                  }
                },
                {
                  "data": {"values": [{}]},
                  "mark": {"type": "point", "opacity": 0},
                  "encoding": {
                    "x": {"datum": 150, "type": "quantitative", "axis": {"orient": "top", "zindex": 2, "values": [60, 70, 80, 90, 110, 120, 130, 140, 160, 170, 180, 190, 210, 220, 230, 240], "tickSize": -4, "labels": false, "domain": false, "title": null}},
                    "y": {"datum": 2.0, "type": "quantitative", "axis": {"orient": "right", "zindex": 2, "values": [2.16677, 2.13052, 2.09427, 2.05802, 1.98552, 1.94927, 1.91302, 1.87677, 1.80427, 1.76802, 1.73177, 1.69552, 1.62302, 1.58677, 1.55052, 1.51427, 1.44177], "tickSize": -4, "labels": false, "domain": false, "title": null}}
                  }
                }
              ],
              "resolve": {"axis": {"x": "independent", "y": "independent"}}
            }
          ],
          "spacing": 32
        }
      ],
      "spacing": 31
    },
    {
      "hconcat": [
        {
          "width": 284, "height": 22,
          "data": {"values": [{}]},
          "mark": {"type": "point", "opacity": 0},
          "encoding": {}
        },
        {
          "width": 540, "height": 22,
          "data": {"values": [{}]},
          "layer": [
            {
              "mark": {"type": "rect", "stroke": "black", "strokeWidth": 3,
                       "fill": {"gradient": "linear", "x1": 0, "y1": 0, "x2": 1, "y2": 0,
                                "stops": [{"offset": 0, "color": "#0000ff"}, {"offset": 0.5, "color": "#ffffff"}, {"offset": 1, "color": "#ff0000"}]}},
              "encoding": {
                "x": {"datum": 0.001, "type": "quantitative", "scale": {"type": "log", "domain": [0.001, 0.1], "nice": false},
                      "axis": {"orient": "bottom", "zindex": 2, "values": [0.001, 0.01, 0.1], "labelExpr": "datum.value < 0.003 ? '10⁻³' : datum.value < 0.03 ? '10⁻²' : '10⁻¹'", "tickSize": -9, "labelPadding": 12, "labelFontSize": 34, "domain": false, "title": null}},
                "x2": {"datum": 0.1},
                "y": {"datum": 0, "type": "quantitative", "scale": {"domain": [0, 1], "nice": false}, "axis": null},
                "y2": {"datum": 1}
              }
            },
            {
              "mark": {"type": "point", "opacity": 0},
              "encoding": {
                "x": {"datum": 0.01, "type": "quantitative",
                      "axis": {"orient": "bottom", "zindex": 2, "values": [0.002, 0.003, 0.004, 0.005, 0.006, 0.007, 0.008, 0.009, 0.02, 0.03, 0.04, 0.05, 0.06, 0.07, 0.08, 0.09], "tickSize": -5, "labels": false, "domain": false, "title": null}},
                "y": {"datum": 0.5, "type": "quantitative", "axis": null}
              }
            }
          ],
          "resolve": {"axis": {"x": "independent"}}
        }
      ],
      "spacing": 0
    }
  ],
  "spacing": 24,
  "config": {
    "font": "Liberation Serif",
    "view": {"stroke": null},
    "concat": {"spacing": 30},
    "title": {"font": "Liberation Serif", "fontSize": 40, "fontWeight": "normal", "color": "black", "offset": 8, "anchor": "middle", "frame": "group"},
    "axis": {"grid": false, "domainColor": "black", "domainWidth": 3, "domainCap": "square", "tickColor": "black", "tickWidth": 2,
             "labelColor": "black", "titleColor": "black", "titleFontWeight": "normal", "labelFont": "Liberation Serif", "titleFont": "Liberation Serif",
             "labelFlush": false, "labelOverlap": false}
  }
}
